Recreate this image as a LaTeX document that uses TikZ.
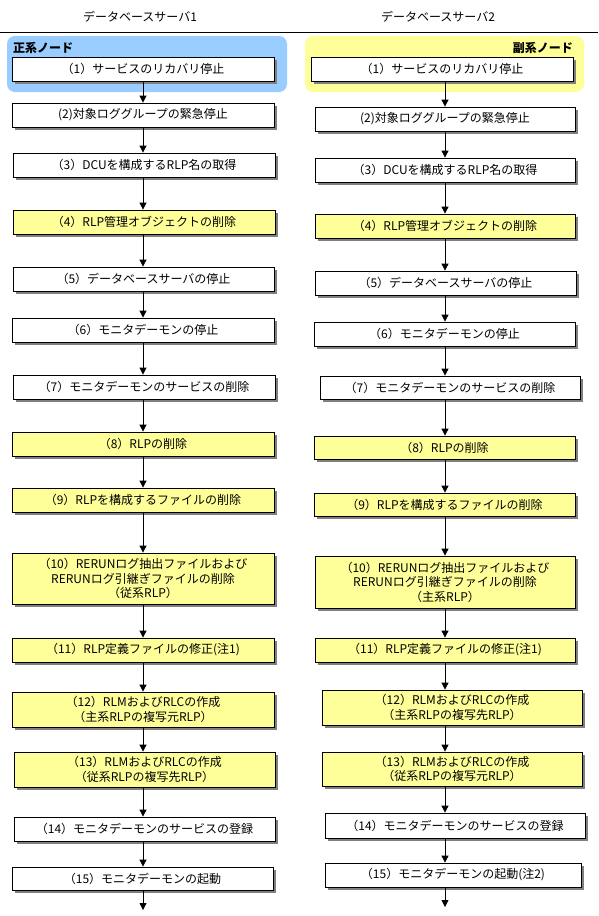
\documentclass[tikz,border=0pt]{standalone}
\usepackage{fontspec}
\setmainfont{Noto Sans CJK JP}
\usetikzlibrary{arrows.meta,shadows}
\definecolor{regblue}{HTML}{99CCFF}
\definecolor{regyellow}{HTML}{FFFF99}
\definecolor{boxyellow}{HTML}{FFFF99}
\tikzset{
  stepbox/.style={draw=black, line width=0.8pt, inner sep=0pt, align=center,
    font=\fontsize{12}{14.5}\selectfont,
    drop shadow={shadow xshift=2.5pt, shadow yshift=-2.5pt, fill=black!50, opacity=1}},
  wbox/.style={stepbox, fill=white},
  ybox/.style={stepbox, fill=boxyellow},
  flow/.style={-{Triangle[width=7pt,length=7pt]}, line width=0.8pt},
  region/.style={rounded corners=8pt, inner sep=0pt},
  regionlabel/.style={font=\fontsize{12}{14}\selectfont\bfseries, inner sep=0pt},
  header/.style={font=\fontsize{12}{14}\selectfont, inner sep=0pt},
}
\newcommand\mkstep[7]{%
  \node[#6, minimum width={#4-#2}, minimum height={#5-#3}] (#1) at ({(#2+#4)/2},{(#3+#5)/2}) {#7};}
\begin{document}
\begin{tikzpicture}[x=1pt,y=-1pt]
\useasboundingbox (0,0) rectangle (598,916);
\fill[white] (0,0) rectangle (598,916);
% headers
\node[header] (h1) at (140,17) {データベースサーバ1};
\node[header] (h2) at (438,17) {データベースサーバ2};
\draw[line width=0.8pt] (0,32) -- (598,32);
% regions
\fill[regblue, region] (7,36) rectangle (287,92);
\fill[regyellow, region] (305,36) rectangle (584,92);
\node[regionlabel, anchor=west] (pl) at (13,48) {正系ノード};
\node[regionlabel, anchor=east] (sl) at (573,48) {副系ノード};
% left column
\mkstep{L1}{12}{57}{274}{81}{wbox}{（1）サービスのリカバリ停止}
\mkstep{L2}{12}{103}{274}{127}{wbox}{(2)対象ロググループの緊急停止}
\mkstep{L3}{13}{153}{275}{177}{wbox}{（3）DCUを構成するRLP名の取得}
\mkstep{L4}{13}{210}{275}{234}{ybox}{（4）RLP管理オブジェクトの削除}
\mkstep{L5}{13}{267}{274}{291}{wbox}{（5）データベースサーバの停止}
\mkstep{L6}{12}{318}{274}{342}{wbox}{（6）モニタデーモンの停止}
\mkstep{L7}{13}{375}{275}{399}{wbox}{（7）モニタデーモンのサービスの削除}
\mkstep{L8}{12}{432}{274}{456}{ybox}{（8）RLPの削除}
\mkstep{L9}{12}{488}{274}{512}{ybox}{（9）RLPを構成するファイルの削除}
\mkstep{L10}{12}{553}{274}{604}{ybox}{（10）RERUNログ抽出ファイルおよび\\RERUNログ引継ぎファイルの削除\\（従系RLP）}
\mkstep{L11}{12}{638}{274}{662}{ybox}{（11）RLP定義ファイルの修正(注1)}
\mkstep{L12}{12}{692}{274}{727}{ybox}{（12）RLMおよびRLCの作成\\（主系RLPの複写元RLP）}
\mkstep{L13}{14}{752}{275}{787}{ybox}{（13）RLMおよびRLCの作成\\（従系RLPの複写先RLP）}
\mkstep{L14}{14}{817}{275}{841}{wbox}{（14）モニタデーモンのサービスの登録}
\mkstep{L15}{12}{867}{273}{890}{wbox}{（15）モニタデーモンの起動}
% right column
\mkstep{R1}{311}{57}{573}{81}{wbox}{（1）サービスのリカバリ停止}
\mkstep{R2}{315}{107}{575}{131}{wbox}{(2)対象ロググループの緊急停止}
\mkstep{R3}{315}{158}{575}{182}{wbox}{（3）DCUを構成するRLP名の取得}
\mkstep{R4}{315}{214}{575}{238}{ybox}{（4）RLP管理オブジェクトの削除}
\mkstep{R5}{315}{271}{576}{295}{wbox}{（5）データベースサーバの停止}
\mkstep{R6}{314}{322}{575}{346}{wbox}{（6）モニタデーモンの停止}
\mkstep{R7}{320}{376}{580}{399}{wbox}{（7）モニタデーモンのサービスの削除}
\mkstep{R8}{314}{436}{575}{459}{ybox}{（8）RLPの削除}
\mkstep{R9}{314}{493}{575}{516}{ybox}{（9）RLPを構成するファイルの削除}
\mkstep{R10}{315}{556}{575}{608}{ybox}{（10）RERUNログ抽出ファイルおよび\\RERUNログ引継ぎファイルの削除\\（主系RLP）}
\mkstep{R11}{315}{638}{575}{662}{ybox}{（11）RLP定義ファイルの修正(注1)}
\mkstep{R12}{322}{690}{582}{725}{ybox}{（12）RLMおよびRLCの作成\\（主系RLPの複写先RLP）}
\mkstep{R13}{322}{752}{582}{786}{ybox}{（13）RLMおよびRLCの作成\\（従系RLPの複写元RLP）}
\mkstep{R14}{325}{813}{585}{838}{wbox}{（14）モニタデーモンのサービスの登録}
\mkstep{R15}{325}{863}{581}{887}{wbox}{（15）モニタデーモンの起動(注2)}
% arrow columns
\coordinate (lx) at (143,0);
\coordinate (rx) at (445,0);
\coordinate (lend) at (143,910);
\coordinate (rend) at (445,907);
\foreach \i [evaluate=\i as \j using int(\i+1)] in {1,...,14}{
  \draw[flow] (L\i.south -| lx) -- (L\j.north -| lx);
  \draw[flow] (R\i.south -| rx) -- (R\j.north -| rx);
}
\draw[flow] (L15.south -| lx) -- (lend);
\draw[flow] (R15.south -| rx) -- (rend);
\end{tikzpicture}
\end{document}
